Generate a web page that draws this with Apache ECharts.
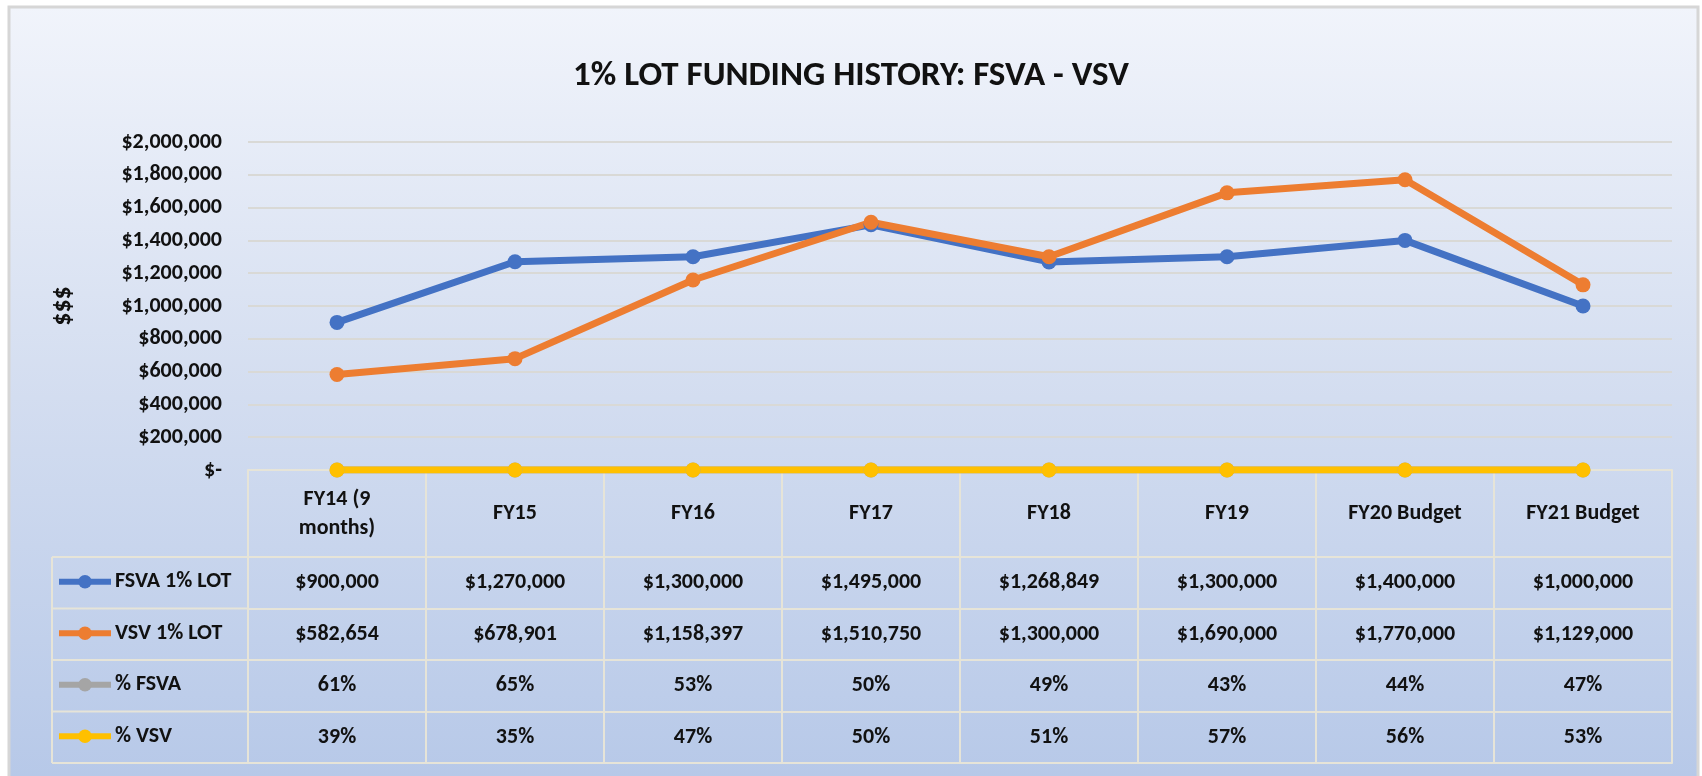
<!DOCTYPE html>
<html>
<head>
<meta charset="utf-8">
<title>1% LOT Funding History</title>
<script src="https://cdn.jsdelivr.net/npm/echarts@6/dist/echarts.min.js"></script>
<style>
	html, body { margin: 0; padding: 0; background: #ffffff; }
	#chart { width: 1702px; height: 776px; }
</style>
</head>
<body>
<div id="chart"></div>
<script>
var categories = ['FY14 (9\nmonths)', 'FY15', 'FY16', 'FY17', 'FY18', 'FY19', 'FY20 Budget', 'FY21 Budget'];
var fsvaLot = [900000, 1270000, 1300000, 1495000, 1268849, 1300000, 1400000, 1000000];
var vsvLot = [582654, 678901, 1158397, 1510750, 1300000, 1690000, 1770000, 1129000];
var pctFsva = [0.61, 0.65, 0.53, 0.50, 0.49, 0.43, 0.44, 0.47];
var pctVsv = [0.39, 0.35, 0.47, 0.50, 0.51, 0.57, 0.56, 0.53];
var seriesNames = ['FSVA 1% LOT', 'VSV 1% LOT', '% FSVA', '% VSV'];
var seriesColors = ['#4472C4', '#ED7D31', '#A5A5A5', '#FFC000'];

var FONT = 'Carlito, Lato, sans-serif';
var TXT = '#111111';
var LINE_CLR = '#e6e4d8';
var FS = 22;

// layout of plot + data table
var plotL = 248, plotR = 1672, plotT = 142, plotB = 470;
var headH = 87, rowH = 51.5, legL = 52;

function money(v) {
	return '$' + Math.round(v).toLocaleString('en-US');
}
function pct(v) {
	return Math.round(v * 100) + '%';
}

var tableRows = [
	fsvaLot.map(money),
	vsvLot.map(money),
	pctFsva.map(pct),
	pctVsv.map(pct)
];

var myChart = echarts.init(document.getElementById('chart'));

// x axes: header row + one axis per table row + closing line
var xAxes = [{
	type: 'category',
	data: categories,
	position: 'bottom',
	offset: 0,
	axisLine: { show: true, lineStyle: { color: LINE_CLR, width: 2 } },
	axisTick: { show: true, length: headH, lineStyle: { color: LINE_CLR, width: 2 } },
	axisLabel: {
		interval: 0, margin: headH / 2, verticalAlign: 'middle',
		color: TXT, fontFamily: FONT, fontWeight: 'bold', fontSize: FS, lineHeight: 29
	}
}];
tableRows.forEach(function(row, r) {
	xAxes.push({
		type: 'category',
		data: categories,
		position: 'bottom',
		offset: headH + r * rowH,
		axisLine: { show: true, lineStyle: { color: LINE_CLR, width: 2 } },
		axisTick: { show: true, length: rowH, lineStyle: { color: LINE_CLR, width: 2 } },
		axisLabel: {
			interval: 0, margin: rowH / 2, verticalAlign: 'middle',
			color: TXT, fontFamily: FONT, fontWeight: 'bold', fontSize: FS,
			formatter: function(v, i) { return row[i]; }
		}
	});
});
xAxes.push({
	type: 'category',
	data: categories,
	position: 'bottom',
	offset: headH + 4 * rowH,
	axisLine: { show: true, lineStyle: { color: LINE_CLR, width: 2 } },
	axisTick: { show: false },
	axisLabel: { show: false }
});

// legend keys inside the table's first column
var legends = seriesNames.map(function(name, r) {
	return {
		data: [name],
		left: 56,
		top: plotB + headH + r * rowH + rowH / 2 - 12,
		padding: 0,
		itemWidth: 52,
		itemHeight: 17,
		itemGap: 0,
		selectedMode: false,
		lineStyle: { width: 6 },
		textStyle: { color: TXT, fontFamily: FONT, fontWeight: 'bold', fontSize: FS, padding: [0, 0, 0, -1] }
	};
});

// borders of the legend column
var gLines = [];
gLines.push({ type: 'line', shape: { x1: legL, y1: plotB + headH, x2: legL, y2: plotB + headH + 4 * rowH }, style: { stroke: LINE_CLR, lineWidth: 2 } });
for (var k = 0; k <= 4; k++) {
	var yy = plotB + headH + k * rowH;
	gLines.push({ type: 'line', shape: { x1: legL, y1: yy, x2: plotL, y2: yy }, style: { stroke: LINE_CLR, lineWidth: 2 } });
}
// chart frame
gLines.unshift({
	type: 'rect',
	shape: { x: 9, y: 7, width: 1689, height: 780 },
	style: {
		fill: new echarts.graphic.LinearGradient(0, 0, 0, 1, [
			{ offset: 0, color: '#f1f4fb' },
			{ offset: 0.5, color: '#d3ddf0' },
			{ offset: 1, color: '#b6c8e8' }
		]),
		stroke: '#d6d6d6', lineWidth: 3
	},
	z: -10
});

function lineSeries(name, data, color) {
	return {
		name: name,
		type: 'line',
		data: data,
		symbol: 'circle',
		symbolSize: 15,
		lineStyle: { width: 7, color: color },
		itemStyle: { color: color },
		emphasis: { disabled: true }
	};
}

option = {
	backgroundColor: '#ffffff',
	animation: false,
	title: {
		text: '1% LOT FUNDING HISTORY: FSVA - VSV',
		left: 'center',
		top: 54,
		textStyle: { color: TXT, fontFamily: FONT, fontWeight: 'bold', fontSize: 35 }
	},
	legend: legends,
	grid: { left: plotL, right: 1702 - plotR, top: plotT, bottom: 776 - plotB, containLabel: false },
	xAxis: xAxes,
	yAxis: {
		type: 'value',
		min: 0,
		max: 2000000,
		interval: 200000,
		name: '$$$',
		nameLocation: 'middle',
		nameGap: 172,
		nameTextStyle: { color: TXT, fontFamily: FONT, fontWeight: 'bold', fontSize: 26 },
		axisLine: { show: false },
		axisTick: { show: false },
		axisLabel: {
			margin: 26,
			color: TXT, fontFamily: FONT, fontWeight: 'bold', fontSize: FS,
			formatter: function(v) { return v === 0 ? '$-' : money(v); }
		},
		splitLine: { lineStyle: { color: '#d9d9d6', width: 2 } }
	},
	graphic: gLines,
	series: [
		lineSeries(seriesNames[0], fsvaLot, seriesColors[0]),
		lineSeries(seriesNames[1], vsvLot, seriesColors[1]),
		lineSeries(seriesNames[2], pctFsva, seriesColors[2]),
		lineSeries(seriesNames[3], pctVsv, seriesColors[3])
	]
};
myChart.setOption(option);
</script>
</body>
</html>
